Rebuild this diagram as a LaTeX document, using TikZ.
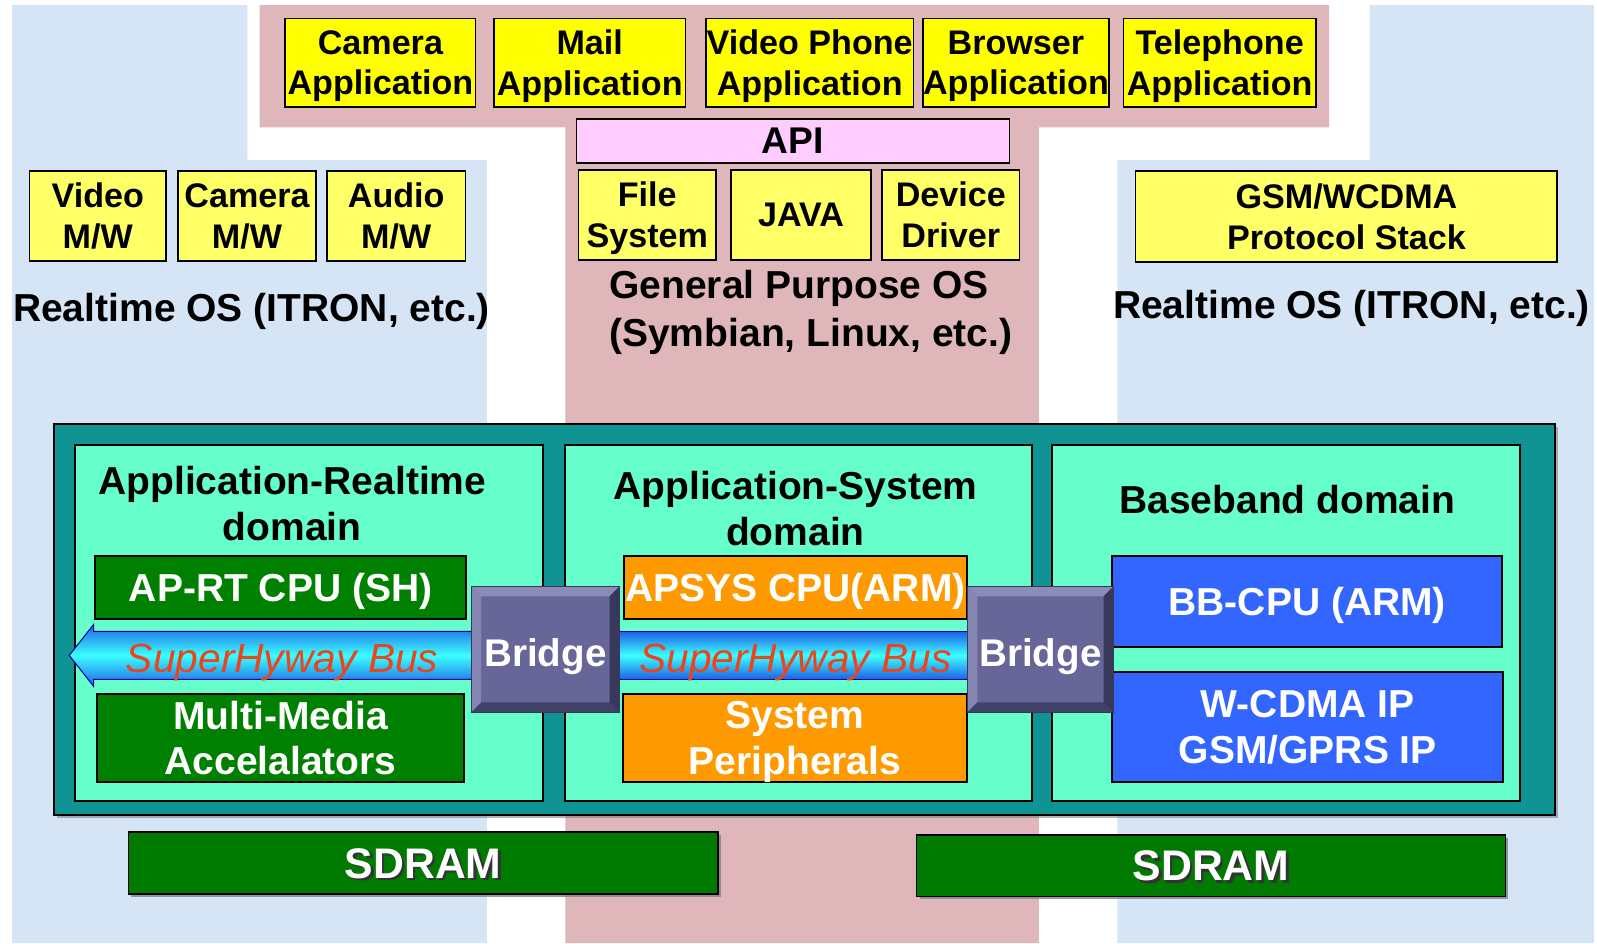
\documentclass[tikz,border=0pt]{standalone}
\usepackage{fontspec}
\setmainfont{Liberation Sans}
\usepackage{tikz}
\usetikzlibrary{positioning,calc,shadows}
\definecolor{bgblue}{HTML}{D5E5F6}
\definecolor{bgpink}{HTML}{DFB6B9}
\definecolor{appyel}{HTML}{FFFF00}
\definecolor{mwyel}{HTML}{FFFF66}
\definecolor{apipink}{HTML}{FFCCFF}
\definecolor{chipteal}{HTML}{109393}
\definecolor{domaqua}{HTML}{66FFCC}
\definecolor{rtgreen}{HTML}{008000}
\definecolor{sysorange}{HTML}{FF9900}
\definecolor{bbblue}{HTML}{3366FF}
\definecolor{brface}{HTML}{666699}
\definecolor{brlight}{HTML}{8C8CBA}
\definecolor{brdark}{HTML}{38385A}
\definecolor{busedge}{HTML}{1F5FE8}
\definecolor{buscore}{HTML}{3CFFFF}
\definecolor{bustext}{HTML}{E8461E}
\definecolor{sdgreen}{HTML}{007A00}
\tikzset{
  box/.style={draw=black,line width=1.6pt,inner sep=0pt,align=center,text depth=0pt,font=\fontsize{33.5}{40}\selectfont\bfseries},
  appbox/.style={box,fill=appyel},
  mwbox/.style={box,fill=mwyel},
  apibox/.style={box,fill=apipink,font=\fontsize{36.5}{40}\selectfont\bfseries},
  oslab/.style={inner sep=0pt,text depth=0pt,font=\fontsize{38.3}{47}\selectfont\bfseries},
  dombox/.style={draw=black,line width=2pt,fill=domaqua},
  domlab/.style={inner sep=0pt,align=center,font=\fontsize{38.3}{45}\selectfont\bfseries},
  hwbox/.style={draw=black,line width=2pt,inner sep=0pt,align=center,text depth=0pt,text=white,font=\fontsize{38.3}{45}\selectfont\bfseries},
  rtbox/.style={hwbox,fill=rtgreen},
  sysbox/.style={hwbox,fill=sysorange},
  bbbox/.style={hwbox,fill=bbblue},
  bridgebox/.style={fill=brface,draw=brdark,line width=1pt,inner sep=0pt,text height=33pt,text depth=0pt,text=white,font=\fontsize{37.9}{40}\selectfont\bfseries},
  bus/.style={draw=blue!60!black,line width=1pt,top color=busedge,bottom color=busedge,middle color=buscore},
  buslab/.style={inner sep=0pt,text height=31pt,text depth=0pt,text=bustext,font=\fontsize{40}{40}\selectfont\itshape},
  sdbox/.style={draw=black,line width=1.5pt,fill=sdgreen,text=white,text depth=0pt,font=\fontsize{42}{42}\selectfont\bfseries,drop shadow={shadow xshift=3pt,shadow yshift=-3pt,opacity=.8}},
}
\newcommand\shtxt[1]{\makebox[0pt][l]{\kern2.5pt\raisebox{-2.5pt}{\color{black!80}#1}}#1}
\newcommand\bevel[1]{%
  \fill[brlight] (#1.north west) -- (#1.north east) -- ($(#1.north east)+(-10,10)$) -- ($(#1.north west)+(10,10)$) -- cycle;
  \fill[brlight!85!brface] (#1.north west) -- ($(#1.north west)+(10,10)$) -- ($(#1.south west)+(10,-10)$) -- (#1.south west) -- cycle;
  \fill[brdark] (#1.north east) -- (#1.south east) -- ($(#1.south east)+(-10,-10)$) -- ($(#1.north east)+(-10,10)$) -- cycle;
  \fill[brdark!80!brface] (#1.south west) -- ($(#1.south west)+(10,-10)$) -- ($(#1.south east)+(-10,-10)$) -- (#1.south east) -- cycle;
  \draw[brdark,line width=1pt] (#1.north west) rectangle (#1.south east);}

\begin{document}
\begin{tikzpicture}[x=1pt,y=-1pt]
\useasboundingbox (0,0) rectangle (1568,926);
% backgrounds: two realtime sides, OS column in the middle
\fill[bgblue] (12,5) -- (243,5) -- (243,157) -- (478,157) -- (478,926) -- (12,926) -- cycle;
\fill[bgblue] (1345,5) -- (1565,5) -- (1565,926) -- (1097,926) -- (1097,157) -- (1345,157) -- cycle;
\fill[bgpink] (255,5) -- (1305,5) -- (1305,125) -- (1020,125) -- (1020,926) -- (555,926) -- (555,125) -- (255,125) -- cycle;

% applications
\node[appbox,minimum width=187,minimum height=87] (camapp) at (373.5,61.5) {Camera\\Application};
\node[appbox,minimum width=188,minimum height=87] (mailapp) at (579,61.5) {Mail\\Application};
\node[appbox,minimum width=204,minimum height=87] (vphoneapp) at (795,61.5) {Video Phone\\Application};
\node[appbox,minimum width=181,minimum height=87] (browserapp) at (997.5,61.5) {Browser\\Application};
\node[appbox,minimum width=189,minimum height=87] (telapp) at (1197.5,61.5) {Telephone\\Application};
\node[apibox,minimum width=425,minimum height=43] (api) at (778.5,138.5) {API};

% general purpose OS
\node[mwbox,minimum width=135,minimum height=88] (filesys) at (635.5,211) {File\\System};
\node[mwbox,minimum width=137,minimum height=88] (java) at (786.5,211) {JAVA};
\node[mwbox,minimum width=135,minimum height=88] (devdrv) at (933.5,211) {Device\\Driver};
\node[oslab,anchor=west,align=left] (gpos) at (598,303) {General Purpose OS\\(Symbian, Linux, etc.)};

% realtime sides
\node[mwbox,minimum width=134,minimum height=88] (videomw) at (96,212) {Video\\M/W};
\node[mwbox,minimum width=135,minimum height=88] (cammw) at (242.5,212) {Camera\\M/W};
\node[mwbox,minimum width=136,minimum height=88] (audiomw) at (389,212) {Audio\\M/W};
\node[oslab] (rtosl) at (247,302) {Realtime OS (ITRON, etc.)};
\node[mwbox,minimum width=414,minimum height=89] (protostack) at (1322,212.5) {GSM/WCDMA\\Protocol Stack};
\node[oslab] (rtosr) at (1327,299) {Realtime OS (ITRON, etc.)};

% chip with three domains
\node[draw=black,line width=2pt,fill=chipteal,minimum width=1474,minimum height=384,drop shadow={shadow xshift=3pt,shadow yshift=-3pt,opacity=.6}] (chip) at (790,608) {};
\node[dombox,minimum width=459,minimum height=349] (rtdom) at (303.5,611.5) {};
\node[dombox,minimum width=458,minimum height=349] (sysdom) at (784,611.5) {};
\node[dombox,minimum width=459,minimum height=349] (bbdom) at (1262.5,611.5) {};
\node[domlab] (rtdomlab) at (287,494.5) {Application-Realtime\\domain};
\node[domlab] (sysdomlab) at (781,499.5) {Application-System\\domain};
\node[domlab] (bbdomlab) at (1264,490) {Baseband domain};

\node[rtbox,minimum width=365,minimum height=62] (rtcpu) at (275.5,577) {AP-RT CPU (SH)};
\node[rtbox,minimum width=361,minimum height=87] (mmacc) at (275.5,724.5) {Multi-Media\\Accelalators};
\node[sysbox,minimum width=336,minimum height=62] (syscpu) at (781,577) {APSYS CPU(ARM)};
\node[sysbox,minimum width=337,minimum height=87] (sysper) at (780.5,724.5) {System\\Peripherals};
\node[bbbox,minimum width=383,minimum height=89] (bbcpu) at (1283.5,590.5) {BB-CPU (ARM)};
\node[bbbox,minimum width=384,minimum height=108] (bbip) at (1284,714) {W-CDMA IP\\GSM/GPRS IP};

% buses
\shade[bus] (463,620) -- (92,620) -- (92,613) -- (68,643.5) -- (92,674) -- (92,667) -- (463,667) -- cycle;
\shade[bus] (608,620) rectangle (950,667);
\node[buslab] (buslabl) at (277,645) {SuperHyway Bus};
\node[buslab] (buslabm) at (781,645) {SuperHyway Bus};

% bridges
\node[bridgebox,minimum width=145,minimum height=123] (bridgel) at (535.5,637.5) {Bridge};
\bevel{bridgel}
\node[bridgebox,minimum width=143,minimum height=123] (bridger) at (1021.5,637.5) {Bridge};
\bevel{bridger}

% memories
\node[sdbox,minimum width=579,minimum height=61] (sdraml) at (415.5,847.5) {\shtxt{SDRAM}};
\node[sdbox,minimum width=578,minimum height=60] (sdramr) at (1189,850) {\shtxt{SDRAM}};
\end{tikzpicture}
\end{document}
